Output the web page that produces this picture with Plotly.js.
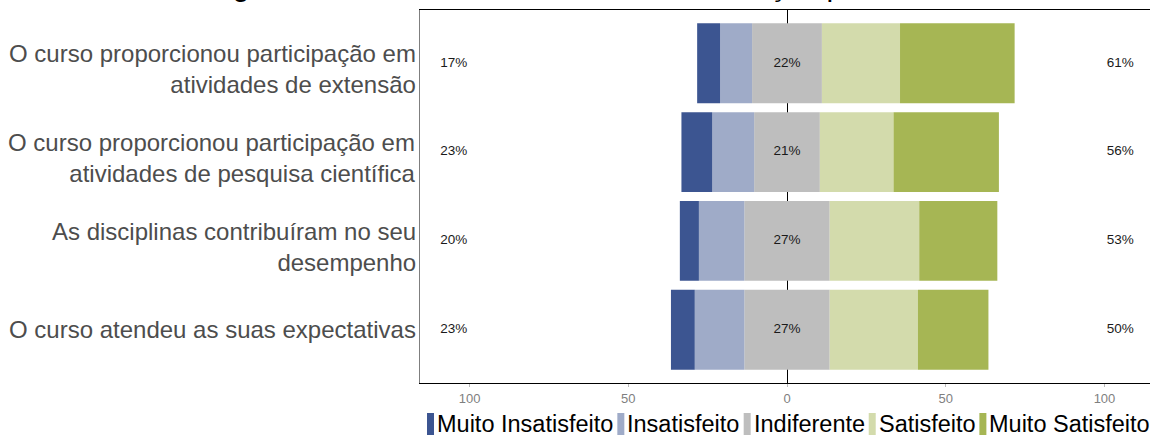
<!DOCTYPE html>
<html>
<head>
<meta charset="utf-8">
<script src="https://cdn.plot.ly/plotly-3.0.1.min.js"></script>
<style>
  html, body { margin: 0; padding: 0; overflow: hidden; background: #ffffff; }
  #chart { width: 1156px; height: 435px; }
</style>
</head>
<body>
<div id="chart"></div>
<script>
// ---- data ----
const categories = [
  "O curso proporcionou participação em<br>atividades de extensão",
  "O curso proporcionou participação em<br>atividades de pesquisa científica",
  "As disciplinas contribuíram no seu<br>desempenho",
  "O curso atendeu as suas expectativas"
];
const seriesNames = ["Muito Insatisfeito", "Insatisfeito", "Indiferente", "Satisfeito", "Muito Satisfeito"];
const muitoInsatisfeito = [7.2, 9.7, 6.0, 7.5];
const insatisfeito      = [10.1, 13.2, 14.3, 15.6];
const indiferente       = [22.0, 20.7, 26.9, 26.9];
const satisfeito        = [24.6, 23.2, 28.2, 27.8];
const muitoSatisfeito   = [36.1, 33.2, 24.6, 22.2];
const lowLabels     = ["17%", "23%", "20%", "23%"];
const neutralLabels = ["22%", "21%", "27%", "27%"];
const highLabels    = ["61%", "56%", "53%", "50%"];
const xTickVals  = [-100, -50, 0, 50, 100];
const xTickText  = ["100", "50", "0", "50", "100"];
const titleText = "Análise geral dos alunos do curso sobre a formação profissional";

// ---- styling ----
const colors = ["#3C5591", "#9FABC8", "#BEBEBE", "#D3DBAC", "#A6B654"];
const FONT = "Liberation Sans, Arial, sans-serif";
const W = 1156, Hgt = 435;
const M = {l: 420, r: 2, t: 10, b: 52};
const PW = W - M.l - M.r, PH = Hgt - M.t - M.b;
const LABEL_X = 105;
const BARW = 0.9;

function bar(name, vals, color) {
  return {
    type: "bar", orientation: "h", name: name,
    x: vals, y: categories, width: BARW,
    marker: {color: color, line: {width: 0}},
    showlegend: false, hoverinfo: "skip"
  };
}
const neg = v => v.map(d => -d);
const half = v => v.map(d => d / 2);

const textFont = {size: 13.5, color: "#1a1a1a", family: FONT};
const traces = [
  bar("Indiferente", neg(half(indiferente)), colors[2]),
  bar("Insatisfeito", neg(insatisfeito), colors[1]),
  bar("Muito Insatisfeito", neg(muitoInsatisfeito), colors[0]),
  bar("Indiferente", half(indiferente), colors[2]),
  bar("Satisfeito", satisfeito, colors[3]),
  bar("Muito Satisfeito", muitoSatisfeito, colors[4]),
  {type: "scatter", mode: "text", x: categories.map(() => -LABEL_X), y: categories, text: lowLabels,
   textfont: textFont, showlegend: false, hoverinfo: "skip"},
  {type: "scatter", mode: "text", x: categories.map(() => 0), y: categories, text: neutralLabels,
   textfont: textFont, showlegend: false, hoverinfo: "skip"},
  {type: "scatter", mode: "text", x: categories.map(() => LABEL_X), y: categories, text: highLabels,
   textfont: textFont, showlegend: false, hoverinfo: "skip"}
];

const px2x = p => (p - M.l) / PW;
const py2y = p => (M.t + PH - p) / PH;
const shapes = [];
const annotations = [];

// ---- category labels (right aligned, left of the panel) ----
categories.forEach(c => {
  const nLines = c.split("<br>").length;
  annotations.push({xref: "paper", yref: "y", x: px2x(417), y: c, xanchor: "right", yanchor: "middle",
    align: "right", showarrow: false, text: c, yshift: -(nLines - 1) * 6,
    font: {size: 24, color: "#4D4D4D", family: FONT}, borderpad: 0});
});

// ---- custom legend (ggplot-like narrow keys) ----
const ctx = document.createElement("canvas").getContext("2d");
const LEG_FONT = 23.5;
ctx.font = LEG_FONT + "px 'Liberation Sans'";
let cx = 427;
seriesNames.forEach((nm, i) => {
  shapes.push({type: "rect", xref: "paper", yref: "paper",
    x0: px2x(cx), x1: px2x(cx + 7), y0: py2y(413), y1: py2y(436),
    fillcolor: colors[i], line: {width: 0}});
  const tx = cx + 9;
  annotations.push({xref: "paper", yref: "paper", x: px2x(tx), y: py2y(424),
    xanchor: "left", yanchor: "middle", showarrow: false, text: nm,
    font: {size: LEG_FONT, color: "#000000", family: FONT}, borderpad: 0});
  cx = tx + ctx.measureText(nm).width + 5;
});

// title (mostly cut off at top in the reference)
annotations.push({xref: "paper", yref: "paper", x: px2x(125), y: 1, xanchor: "left", yanchor: "bottom",
  yshift: 7, showarrow: false, text: titleText, font: {size: 30, color: "#000000", family: FONT}, borderpad: 0});

const layout = {
  width: W, height: Hgt,
  margin: M,
  paper_bgcolor: "#ffffff", plot_bgcolor: "#ffffff",
  font: {family: FONT},
  barmode: "relative",
  showlegend: false,
  xaxis: {
    range: [-115.6, 115.6], tickvals: xTickVals, ticktext: xTickText,
    tickfont: {size: 13, color: "#7F7F7F"}, ticks: "outside", ticklen: 3, tickcolor: "#bbbbbb",
    showgrid: false, zeroline: true, zerolinecolor: "#000000", zerolinewidth: 1,
    showline: true, linecolor: "#000000", linewidth: 1, mirror: true, fixedrange: true
  },
  yaxis: {
    type: "category", categoryorder: "array", categoryarray: categories,
    range: [3.6, -0.6], showticklabels: false,
    ticks: "", showgrid: false, zeroline: false,
    showline: true, linecolor: "#7F7F7F", linewidth: 1, fixedrange: true
  },
  shapes: shapes,
  annotations: annotations
};

Plotly.newPlot("chart", traces, layout, {staticPlot: true, displayModeBar: false});
</script>
</body>
</html>
